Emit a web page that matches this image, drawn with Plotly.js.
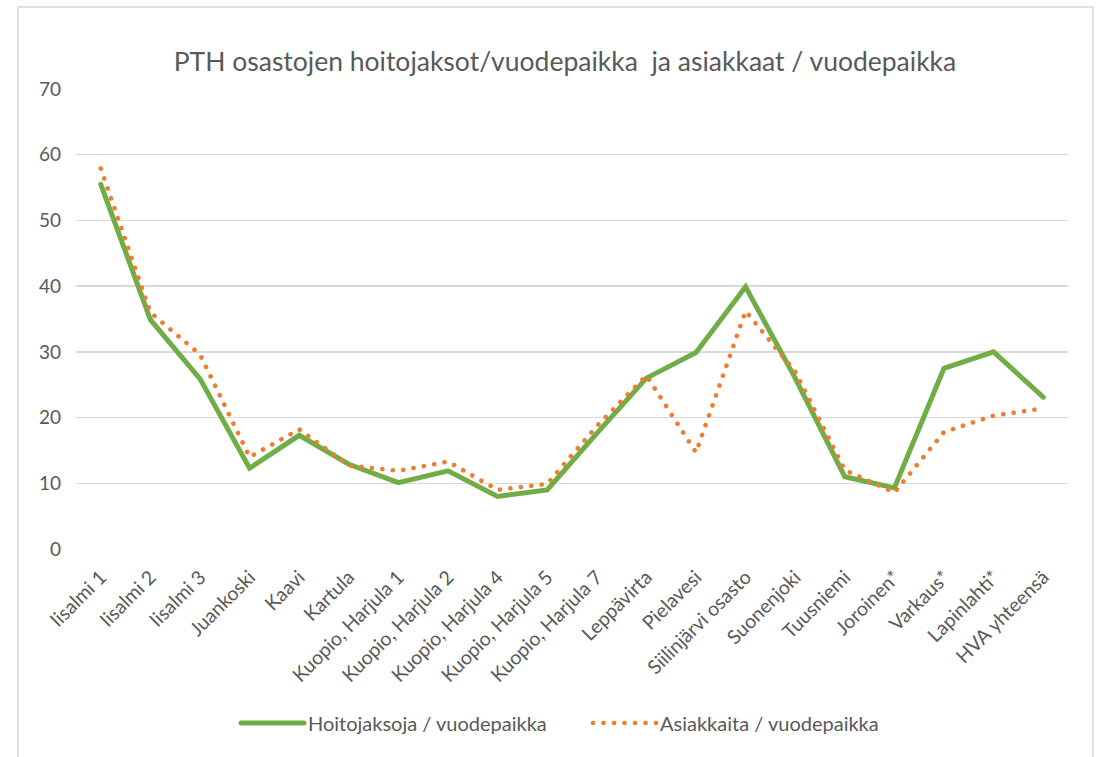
<!DOCTYPE html>
<html>
<head>
<meta charset="utf-8">
<script src="https://cdn.plot.ly/plotly-3.0.1.min.js"></script>
<style>
  html, body { margin: 0; padding: 0; background: #ffffff; }
  #frame { position: absolute; left: 17px; top: 6px; width: 1077px; height: 800px; border: 2px solid #e0e0e0; box-sizing: border-box; }
  #chart { position: absolute; left: 0; top: 0; width: 1097px; height: 757px; }
  .js-line { stroke-linecap: round; }
</style>
</head>
<body>
<div id="frame"></div>
<div id="chart"></div>
<script>
const categories = ["Iisalmi 1", "Iisalmi 2", "Iisalmi 3", "Juankoski", "Kaavi", "Kartula",
  "Kuopio, Harjula 1", "Kuopio, Harjula 2", "Kuopio, Harjula 4", "Kuopio, Harjula 5",
  "Kuopio, Harjula 7", "Leppävirta", "Pielavesi", "Siilinjärvi osasto", "Suonenjoki",
  "Tuusniemi", "Joroinen*", "Varkaus*", "Lapinlahti*", "HVA yhteensä"];
const hoitojaksoja = [55.5, 34.9, 25.9, 12.3, 17.3, 12.9, 10.1, 11.9, 8.0, 9.0,
  17.6, 26.0, 29.9, 39.9, 26.0, 11.0, 9.3, 27.5, 30.0, 23.1];
const asiakkaita = [57.9, 36.0, 29.6, 14.0, 18.2, 12.7, 11.9, 13.3, 9.0, 9.9,
  18.7, 26.4, 14.7, 36.2, 27.0, 12.0, 8.6, 17.8, 20.3, 21.4];
const seriesNames = ["Hoitojaksoja / vuodepaikka", "Asiakkaita / vuodepaikka"];
const yTicks = [0, 10, 20, 30, 40, 50, 60, 70];

const textColor = "#595959";
const fontFamily = "Lato, 'Open Sans', sans-serif";

const traces = [
  {
    x: categories, y: hoitojaksoja, name: seriesNames[0], type: "scatter", mode: "lines",
    line: { color: "#70ad47", width: 5 }, hoverinfo: "x+y"
  },
  {
    x: categories, y: asiakkaita, name: seriesNames[1], type: "scatter", mode: "lines",
    line: { color: "#ed7d31", width: 4.6, dash: "0.1px,10.4px" }, hoverinfo: "x+y"
  }
];

const layout = {
  width: 1097, height: 757,
  paper_bgcolor: "rgba(0,0,0,0)", plot_bgcolor: "rgba(0,0,0,0)",
  margin: { l: 76, r: 29, t: 89, b: 208 },
  font: { family: fontFamily, color: textColor, size: 18 },
  title: {
    text: "PTH osastojen hoitojaksot/vuodepaikka&nbsp;&nbsp;ja asiakkaat / vuodepaikka",
    font: { family: fontFamily, size: 26.5, color: textColor },
    xref: "container", x: 0.515, xanchor: "center",
    yref: "container", y: 1 - 62 / 757, yanchor: "middle"
  },
  xaxis: {
    type: "category", range: [-0.5, categories.length - 0.5],
    tickangle: -45, showgrid: false, zeroline: false, showline: false,
    ticks: "", ticklabelstandoff: 12,
    tickfont: { size: 19.5, color: textColor, family: fontFamily },
    automargin: false
  },
  yaxis: {
    range: [0, 70], tickvals: yTicks, showgrid: true, gridcolor: "#d9d9d9", gridwidth: 1.5,
    zeroline: false, showline: false, ticks: "", ticklabelstandoff: 14,
    tickfont: { size: 19, color: textColor, family: fontFamily }, automargin: false
  },
  showlegend: true,
  legend: {
    orientation: "h", xref: "container", x: 238 / 1097, xanchor: "left",
    yref: "container", y: 1 - 723 / 757, yanchor: "middle",
    font: { size: 20, color: textColor, family: fontFamily },
    itemwidth: 60, entrywidth: 277, entrywidthmode: "pixels", bgcolor: "rgba(0,0,0,0)"
  }
};

Plotly.newPlot("chart", traces, layout, { displayModeBar: false, staticPlot: true }).then(function (gd) {
  // stretch the legend line samples to the reference's longer swatch
  gd.querySelectorAll(".legend .legendlines path").forEach(function (p) {
    p.setAttribute("d", "M3,0h63");
  });
});
</script>
</body>
</html>
